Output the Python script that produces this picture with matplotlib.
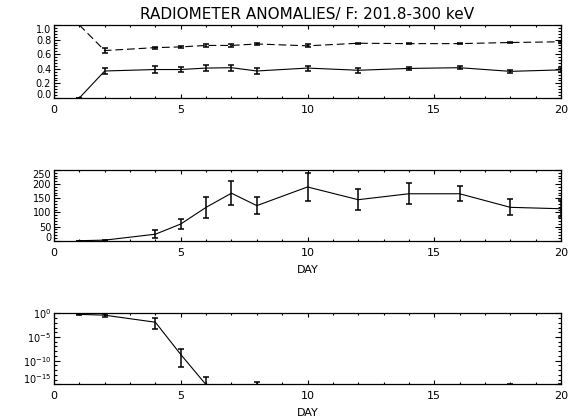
import numpy as np
import matplotlib
matplotlib.use('Agg')
import matplotlib.pyplot as plt
from matplotlib.ticker import MultipleLocator, FixedLocator, FixedFormatter, NullFormatter

plt.rcParams['font.family'] = ['DejaVu Sans']
plt.rcParams['mathtext.fontset'] = 'dejavusans'

title = "RADIOMETER ANOMALIES/ F: 201.8-300 keV"
xlabel = "DAY"

days = [1, 2, 4, 5, 6, 7, 8, 10, 12, 14, 16, 18, 20]

# panel 1: two fractions (dashed / solid)
frac_upper = [1.00, 0.65, 0.69, 0.70, 0.72, 0.72, 0.74, 0.715, 0.75, 0.745, 0.745, 0.76, 0.77]
frac_upper_err = [0.0, 0.04, 0.015, 0.018, 0.015, 0.015, 0.01, 0.018, 0.01, 0.012, 0.012, 0.012, 0.015]
frac_lower = [0.0, 0.37, 0.39, 0.39, 0.41, 0.415, 0.37, 0.41, 0.38, 0.405, 0.415, 0.365, 0.385]
frac_lower_err = [0.0, 0.04, 0.045, 0.04, 0.04, 0.04, 0.04, 0.035, 0.035, 0.022, 0.02, 0.025, 0.028]

# panel 2: counts
counts = [0, 2, 23, 59, 118, 168, 124, 190, 145, 166, 166, 118, 113]
counts_err = [0, 2, 15, 17, 36, 42, 31, 49, 37, 37, 26, 28, 30]

# panel 3: probability (log)
prob = [0.6, 0.4, 1.3e-2, 2e-9, 8e-16, 0, 0, 0, 0, 0, 0, 0, 0]
prob_hi = [0.75, 0.83, 0.12, 3e-8, 3e-14, 0, 3.5e-15, 0, 0, 0, 0, 1.1e-15, 1.3e-15]
prob_lo = [0.5, 0.14, 5e-4, 5e-12, 0, 0, 0, 0, 0, 0, 0, 0, 0]

y1_ticks = [0.0, 0.2, 0.4, 0.6, 0.8, 1.0]
y2_ticks = [0, 50, 100, 150, 200, 250]
y3_ticks = [1e-15, 1e-10, 1e-5, 1e0]
y3_labels = [r'$10^{-15}$', r'$10^{-10}$', r'$10^{-5}$', r'$10^{0}$']
x_ticks = [0, 5, 10, 15, 20]

W, H = 568, 419
fig = plt.figure(figsize=(W / 100, H / 100), dpi=100)

def rect(top, bottom, left=54, right=561):
    return [left / W, 1 - bottom / H, (right - left) / W, (bottom - top) / H]

ax1 = fig.add_axes(rect(25, 98))
ax2 = fig.add_axes(rect(170, 240.7))
ax3 = fig.add_axes(rect(313.3, 384.3))

lw = 0.8
ekw = dict(color='black', elinewidth=1.1, capsize=2.2, capthick=1.1)

ax1.errorbar(days, frac_upper, yerr=frac_upper_err, lw=lw, ls=(0, (7, 3.5)), **ekw)
ax1.errorbar(days, frac_lower, yerr=frac_lower_err, lw=lw, ls='-', **ekw)
ax1.set_ylim(0, 1.0)
ax1.yaxis.set_major_locator(FixedLocator(y1_ticks))
ax1.yaxis.set_minor_locator(MultipleLocator(0.04))

ax2.errorbar(days, counts, yerr=counts_err, lw=lw, ls='-', **ekw)
ax2.set_ylim(0, 250)
ax2.yaxis.set_major_locator(FixedLocator(y2_ticks))
ax2.yaxis.set_minor_locator(MultipleLocator(10))
ax2.set_xlabel(xlabel, fontsize=8, labelpad=5)

p = np.array(prob)
ax3.set_yscale('log')
ax3.errorbar(days, prob, yerr=[p - np.array(prob_lo), np.array(prob_hi) - p],
             lw=lw, ls='-', **ekw)
ax3.set_ylim(1e-15, 1e0)
ax3.yaxis.set_major_locator(FixedLocator(y3_ticks))
ax3.yaxis.set_major_formatter(FixedFormatter(y3_labels))
ax3.yaxis.set_minor_locator(FixedLocator([10.0 ** (-k) for k in range(16)]))
ax3.yaxis.set_minor_formatter(NullFormatter())
ax3.set_xlabel(xlabel, fontsize=8, labelpad=5)

for ax in (ax1, ax2, ax3):
    ax.set_xlim(0, 20)
    ax.xaxis.set_major_locator(FixedLocator(x_ticks))
    ax.xaxis.set_minor_locator(MultipleLocator(1))
    ax.tick_params(axis='both', which='both', direction='in', top=True, right=True,
                   width=0.8, colors='black')
    ax.tick_params(axis='x', which='major', length=3, labelsize=8, pad=5)
    ax.tick_params(axis='x', which='minor', length=1.5)
    ax.tick_params(axis='y', which='major', length=4, labelsize=7, pad=2)
    ax.tick_params(axis='y', which='minor', length=2.2)
    for s in ax.spines.values():
        s.set_linewidth(0.9)

for ax in (ax1, ax2):
    labs = ax.get_yticklabels()
    labs[0].set_va('baseline')
    labs[-1].set_va('top')
ax3.get_yticklabels()[0].set_va('baseline')

fig.text(307 / W, 1 - 15 / H, title, ha='center', va='center', fontsize=11)

fig.savefig('out.png', dpi=100)
